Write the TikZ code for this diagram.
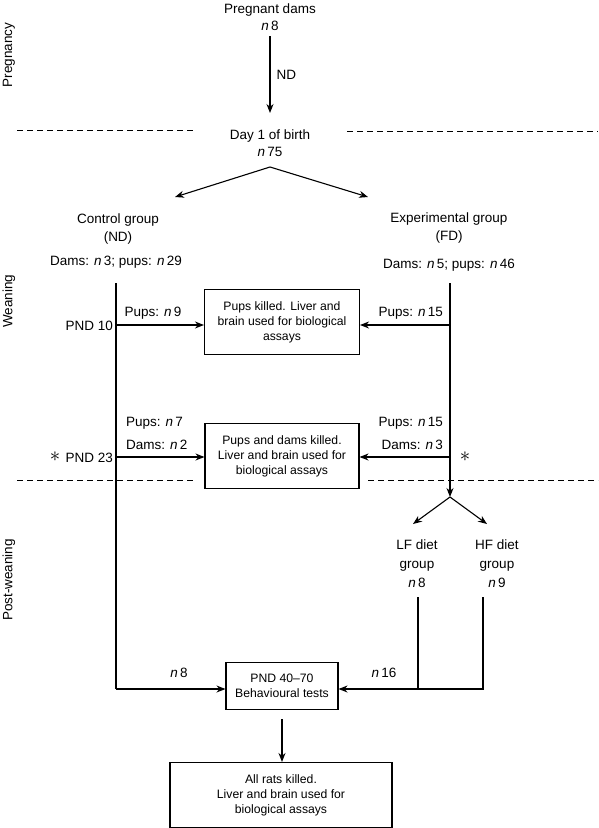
\documentclass[tikz,border=0pt]{standalone}
\usepackage{fontspec}
\setmainfont{Liberation Sans}
\usetikzlibrary{arrows.meta}
\begin{document}
\begin{tikzpicture}[x=1pt,y=-1pt,
  ln/.style={line width=1.1pt},
  arr/.style={ln,-{Stealth[length=9pt,width=7pt]}},
  lbl/.style={font=\fontsize{13.5}{17.5}\selectfont, inner sep=0pt, align=center},
  boxtxt/.style={draw, line width=1.1pt, font=\fontsize{12.2}{15}\selectfont, align=center, inner sep=0pt},
  dsh/.style={line width=0.9pt, dash pattern=on 6pt off 4pt},
  side/.style={lbl, rotate=90},
  star/.style={font=\fontsize{20}{20}\selectfont, inner sep=0pt}]
\useasboundingbox (0,0) rectangle (598,828);

% side labels
\node[side] (sp) at (9,55) {Pregnancy};
\node[side] (sw) at (9,301) {Weaning};
\node[side] (spw) at (9,580) {Post-weaning};

% top
\node[lbl] (preg) at (270,17) {Pregnant dams\\\textit{n}\,8};
\node[lbl] (day) at (270,143) {Day 1 of birth\\\textit{n}\,75};
\coordinate (pregout) at (270,36);
\coordinate (dayin) at (270,113);
\draw[arr] (pregout) -- (dayin) node[midway, right=6pt, lbl] (nd) {ND};

% dashed lines
\coordinate (d1a) at (17,130); \coordinate (d1b) at (195,130);
\coordinate (d1c) at (347,131); \coordinate (d1d) at (598,131);
\draw[dsh] (d1a) -- (d1b);
\draw[dsh] (d1c) -- (d1d);
\coordinate (d2a) at (17,480); \coordinate (d2b) at (195,480);
\coordinate (d2c) at (368,480); \coordinate (d2d) at (598,480);
\draw[dsh] (d2a) -- (d2b);
\draw[dsh] (d2c) -- (d2d);

% split
\coordinate (apex) at (270,167);
\coordinate (splL) at (175,197);
\coordinate (splR) at (368,197);
\draw[arr] (apex) -- (splL);
\draw[arr] (apex) -- (splR);

% groups
\node[lbl] (ctrl) at (118,229) {Control group\\(ND)};
\node[lbl] (ctrln) at (116,262) {Dams: \textit{n}\,3; pups: \textit{n}\,29};
\node[lbl] (exp) at (449,228) {Experimental group\\(FD)};
\node[lbl] (expn) at (449,265) {Dams: \textit{n}\,5; pups: \textit{n}\,46};

% boxes
\node[boxtxt, minimum width=155pt, minimum height=65pt] (box1) at (282,322) {Pups killed. Liver and\\brain used for biological\\assays};
\node[boxtxt, minimum width=154pt, minimum height=65pt] (box2) at (282,456) {Pups and dams killed.\\Liver and brain used for\\biological assays};
\node[boxtxt, minimum width=112pt, minimum height=47pt] (box3) at (282,686) {PND 40--70\\Behavioural tests};
\node[boxtxt, minimum width=222pt, minimum height=65pt] (box4) at (281,795) {All rats killed.\\Liver and brain used for\\biological assays};

% left column
\coordinate (Ltop) at (116,283);
\coordinate (L10) at (116,325);
\coordinate (L23) at (116,457);
\coordinate (Lbot) at (116,689);
\draw[ln] (Ltop) -- (Lbot);
\draw[arr] (L10) -- (L10 -| box1.west);
\draw[arr] (L23) -- (L23 -| box2.west);
\draw[arr] (Lbot) -- (Lbot -| box3.west);

% right column
\coordinate (Rtop) at (450,283);
\coordinate (R10) at (450,325);
\coordinate (R23) at (450,457);
\coordinate (Rbot) at (450,497);
\draw[arr] (Rtop) -- (Rbot);
\draw[arr] (R10) -- (R10 -| box1.east);
\draw[arr] (R23) -- (R23 -| box2.east);

% LF / HF split
\coordinate (lfend) at (413,524);
\coordinate (hfend) at (487,524);
\draw[arr] (Rbot) -- (lfend);
\draw[arr] (Rbot) -- (hfend);
\node[lbl, font=\fontsize{13.5}{19}\selectfont] (lf) at (417,564) {LF diet\\group\\\textit{n}\,8};
\node[lbl, font=\fontsize{13.5}{19}\selectfont] (hf) at (497,564) {HF diet\\group\\\textit{n}\,9};
\coordinate (lftop) at (418,597);
\coordinate (hftop) at (483,597);
\coordinate (join) at (418,689);
\coordinate (hfcorner) at (483,689);
\draw[ln] (lftop) -- (join);
\draw[ln] (hftop) -- (hfcorner) -- (join);
\draw[arr] (join) -- (join -| box3.east);

% bottom arrow
\coordinate (b3out) at ([yshift=-9pt]box3.south);
\draw[arr] (b3out) -- (b3out |- box4.north);

% labels
\node[lbl] (p9) at (153,313) {Pups: \textit{n}\,9};
\node[lbl, anchor=east] (pnd10) at (113,326) {PND 10};
\node[lbl, anchor=east] (p15a) at (443,313) {Pups: \textit{n}\,15};

\node[lbl, anchor=west] (p7) at (126,423) {Pups: \textit{n}\,7};
\node[lbl, anchor=west] (d2) at (126,445) {Dams: \textit{n}\,2};
\node[lbl, anchor=east] (pnd23) at (113,458) {PND 23};
\node[star] (starL) at (55,457) {$\ast$};
\node[lbl, anchor=east] (p15b) at (443,423) {Pups: \textit{n}\,15};
\node[lbl, anchor=east] (d3) at (443,445) {Dams: \textit{n}\,3};
\node[star] (starR) at (465,457) {$\ast$};

\node[lbl] (n8) at (179,673) {\textit{n}\,8};
\node[lbl] (n16) at (384,673) {\textit{n}\,16};
\end{tikzpicture}
\end{document}
